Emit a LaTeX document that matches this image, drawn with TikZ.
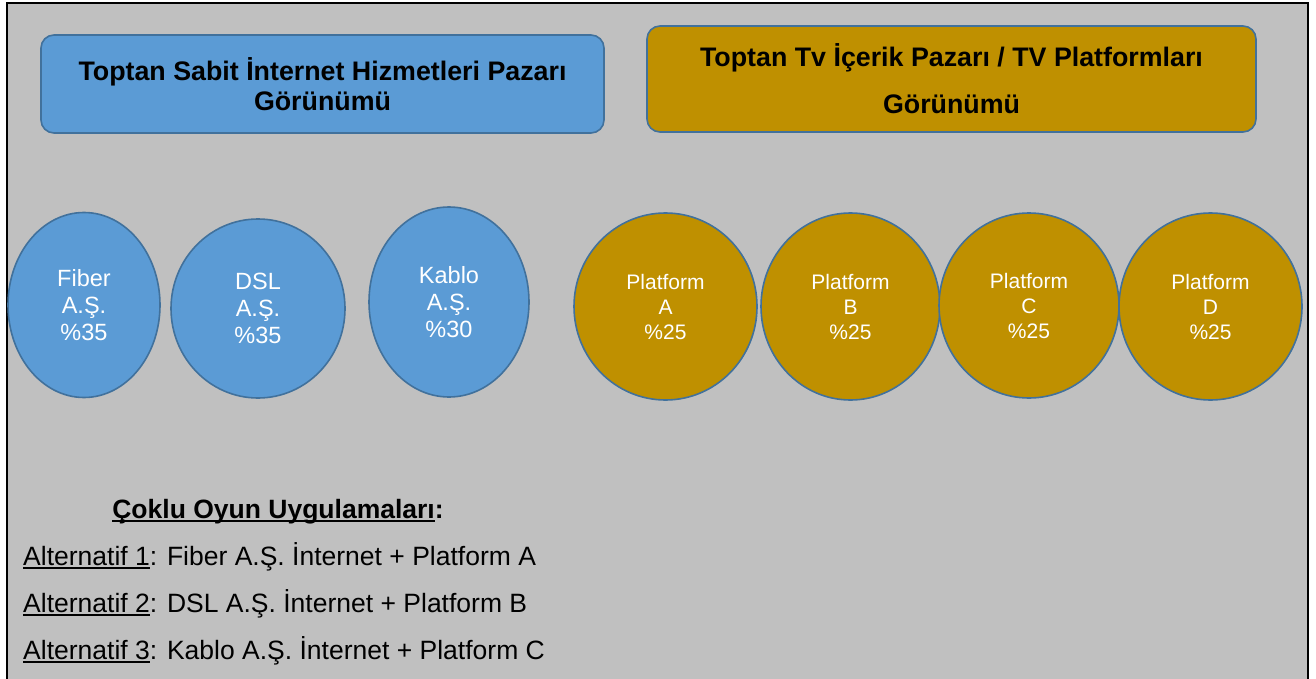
\documentclass[tikz,border=0pt]{standalone}
\usepackage{fontspec}
\setmainfont{Liberation Sans}
\usetikzlibrary{shapes.geometric, positioning}
\definecolor{paneGray}{HTML}{C0C0C0}
\definecolor{netBlue}{HTML}{5B9BD5}
\definecolor{edgeBlue}{HTML}{41719C}
\definecolor{tvGold}{HTML}{BF9000}
\newcommand{\undl}[1]{\setbox0\hbox{#1}\rlap{\rule[-3.2pt]{\wd0}{1.6pt}}\box0}

\begin{document}
\begin{tikzpicture}[x=1pt, y=-1pt,
    header/.style={draw=edgeBlue, line width=1.6pt, rounded corners=13pt, align=center, inner sep=0pt,
      font=\fontsize{26.8}{30}\selectfont\bfseries},
    share/.style={ellipse, draw=edgeBlue, line width=1.6pt, inner sep=0pt, align=center, text=white},
    netshare/.style={share, fill=netBlue, font=\fontsize{23.5}{27}\selectfont},
    tvshare/.style={share, fill=tvGold, font=\fontsize{21}{25}\selectfont},
    altline/.style={anchor=west, inner sep=0pt, font=\fontsize{26.5}{30}\selectfont}]
    \useasboundingbox (0,0) rectangle (1316,679);
    % Frame
    \draw[line width=2.5pt, fill=paneGray] (7,3) rectangle (1308,700);

    % Market headers
    \node [header, fill=netBlue, minimum width=563pt, minimum height=98pt] (netmarket) at (322.5,84)
      {Toptan Sabit İnternet Hizmetleri Pazarı\\Görünümü};
    \node [header, fill=tvGold, minimum width=609pt, minimum height=106pt] (tvmarket) at (951.5,79)
      {Toptan Tv İçerik Pazarı / TV Platformları\\[17pt]Görünümü};

    % Internet providers
    \node [netshare, minimum width=152pt, minimum height=185pt] (fiber) at (84,305) {Fiber\\A.Ş.\\\%35};
    \node [netshare, minimum width=174pt, minimum height=179pt] (dsl) at (258,308.5) {DSL\\A.Ş.\\\%35};
    \node [netshare, minimum width=160pt, minimum height=190pt] (kablo) at (449,302) {Kablo\\A.Ş.\\\%30};

    % TV platforms
    \node [tvshare, minimum width=183pt, minimum height=187pt] (platA) at (665.5,306.5) {Platform\\A\\\%25};
    \node [tvshare, minimum width=179pt, minimum height=187pt] (platB) at (850.5,306.5) {Platform\\B\\\%25};
    \node [tvshare, minimum width=180pt, minimum height=185pt] (platC) at (1029,305.5) {Platform\\C\\\%25};
    \node [tvshare, minimum width=183pt, minimum height=187pt] (platD) at (1210.5,306.5) {Platform\\D\\\%25};

    % Bundles
    \node [font=\fontsize{26.5}{30}\selectfont\bfseries, inner sep=0pt] (bundles) at (278,512)
      {\undl{Çoklu Oyun Uygulamaları}:};
    \node [altline] (alt1) at (23,557) {\undl{Alternatif 1}: Fiber A.Ş. İnternet + Platform A};
    \node [altline] (alt2) at (23,604) {\undl{Alternatif 2}: DSL A.Ş. İnternet + Platform B};
    \node [altline] (alt3) at (23,651) {\undl{Alternatif 3}: Kablo A.Ş. İnternet + Platform C};
\end{tikzpicture}
\end{document}
